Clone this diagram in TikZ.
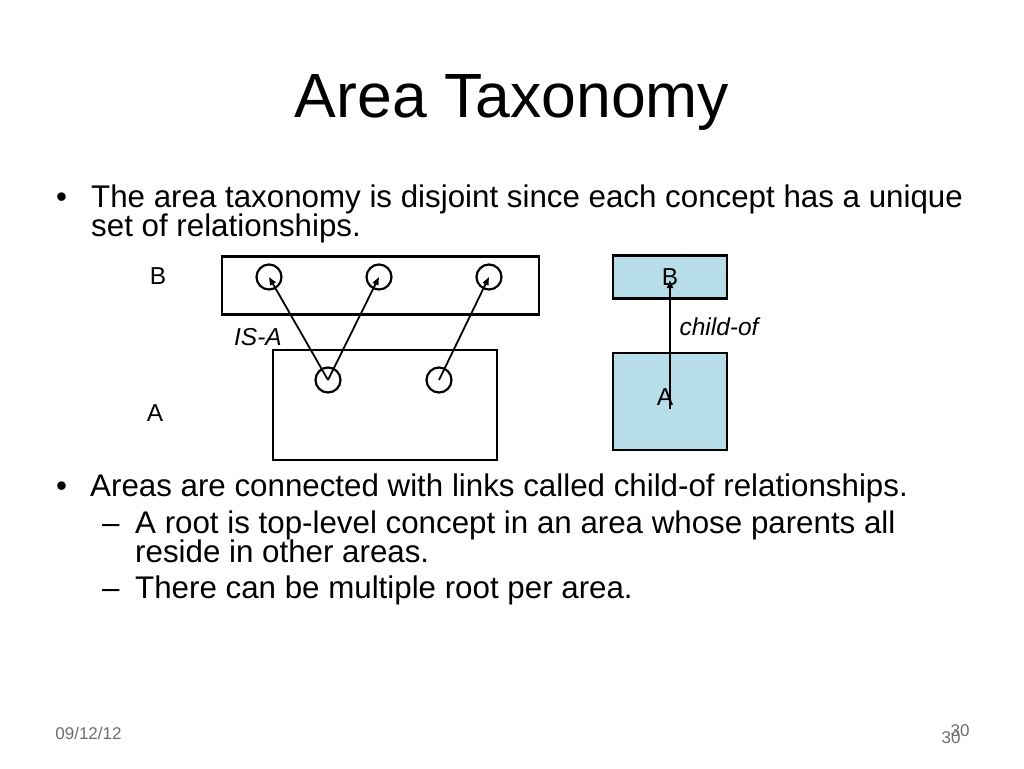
\documentclass[tikz,border=0pt]{standalone}
\usepackage{fontspec}
\setmainfont{Liberation Sans}
\usetikzlibrary{arrows.meta}
\definecolor{areablue}{RGB}{183,222,232}
\definecolor{footgray}{RGB}{110,110,110}

\begin{document}
\begin{tikzpicture}[x=1pt, y=-1pt, % one unit = one pixel of the slide
    body/.style={anchor=base west, inner sep=0pt, font=\fontsize{31.3}{31.3}\selectfont},
    lbl/.style={inner sep=0pt, font=\fontsize{24.5}{24.5}\selectfont},
    area/.style={draw, line width=2.6pt, inner sep=0pt},
    concept/.style={draw, circle, line width=2.2pt, minimum size=25pt, inner sep=0pt},
    link/.style={line width=1.8pt, -{Triangle[length=8pt, width=6pt]}},
    foot/.style={inner sep=0pt, text=footgray, font=\fontsize{17}{17}\selectfont}]

    \useasboundingbox (0,0) rectangle (1024,768); % slide size

    % Title
    \node[anchor=base, inner sep=0pt, font=\fontsize{62.5}{62.5}\selectfont] (title) at (512,117) {Area Taxonomy};

    % First bullet
    \node[body] (dot1) at (56,207) {•};
    \node[body] (line1) at (91,207) {The area taxonomy is disjoint since each concept has a unique};
    \node[body] (line2) at (91,236) {set of relationships.};

    % Left diagram: areas with concepts
    \node[area, minimum width=317pt, minimum height=58pt] (areaB) at (380.5,285.5) {};
    \node[area, minimum width=224pt, minimum height=110pt] (areaA) at (385,405) {};
    \node[lbl] (labB) at (158,276) {B};
    \node[lbl] (labA) at (155,413) {A};
    \node[lbl, font=\fontsize{24.5}{24.5}\itshape] (isa) at (258,337) {IS-A};

    \node[concept] (b1) at (269,277) {};
    \node[concept] (b2) at (379,277) {};
    \node[concept] (b3) at (489,277) {};
    \node[concept] (a1) at (328,380) {};
    \node[concept] (a2) at (439,380) {};

    \draw[link] (a1.center) -- (b1.center);
    \draw[link] (a1.center) -- (b2.center);
    \draw[link] (a2.center) -- (b3.center);

    % Right diagram: child-of link
    \node[area, fill=areablue, minimum width=114pt, minimum height=43pt, font=\fontsize{24.5}{24.5}\selectfont] (boxB) at (670,277) {B};
    \node[area, fill=areablue, minimum width=114pt, minimum height=97pt] (boxA) at (670,401.5) {};
    \node[lbl] (nameA) at (665,397) {A};
    \node[lbl, font=\fontsize{24.5}{24.5}\itshape] (childof) at (719,327) {child-of};
    \draw[link] ([yshift=-7pt]boxA.center) -- ([yshift=-3pt]boxB.center);

    % Second bullet
    \node[body] (dot2) at (56,496) {•};
    \node[body] (line3) at (90,496) {Areas are connected with links called child-of relationships.};
    \node[body] (dash1) at (102,533) {–};
    \node[body] (line4) at (135,533) {A root is top-level concept in an area whose parents all};
    \node[body] (line5) at (135,562) {reside in other areas.};
    \node[body] (dash2) at (102,598) {–};
    \node[body] (line6) at (135,598) {There can be multiple root per area.};

    % Footer
    \node[foot] (date) at (88.5,733) {09/12/12};
    \node[foot] (page) at (960,731) {30};
    \node[foot] (pagetwo) at (951,738) {30};
\end{tikzpicture}
\end{document}
